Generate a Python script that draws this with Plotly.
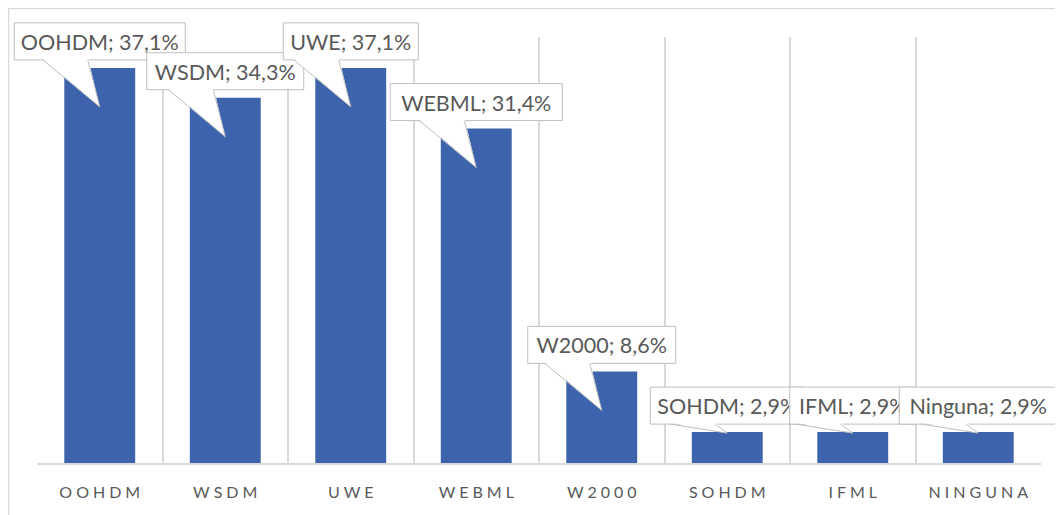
import plotly.graph_objects as go

# ---- data ----
categories = ["OOHDM", "WSDM", "UWE", "WEBML", "W2000", "SOHDM", "IFML", "Ninguna"]
values = [37.1, 34.3, 37.1, 31.4, 8.6, 2.9, 2.9, 2.9]

# ---- styling constants ----
BAR_COLOR = "#3C63AC"
GRID = "#D9D9D9"
TEXT = "#595959"
FONT = "Lato"
box_widths = [171, 157, 135, 172, 148, 154, 126, 158]  # callout widths in px
BOX_H = 37
BOX_GAP = 8

# page has an 8px body margin, so the figure starts at (8, 8)
W, H = 1055, 507
L, R, T, B = 29, 22, 29, 52
PW, PH = W - L - R, H - T - B
Y_MAX = 40.0
X_MIN, X_MAX = -0.5, len(categories) - 0.5

x_idx = list(range(len(categories)))
tick_text = ["\u2005".join(c.upper()) for c in categories]

fig = go.Figure()
fig.add_trace(go.Bar(
    x=x_idx, y=values, width=0.565,
    marker=dict(color=BAR_COLOR, line=dict(width=0)),
    hoverinfo="skip",
))


def fx(px):
    return px / PW


def fy(px):
    return px / PH


shapes = []
# outer chart border
shapes.append(dict(type="rect", xref="paper", yref="paper",
                   x0=-L / PW + 0.0005, x1=1.2,
                   y0=-0.3, y1=1 + T / PH - 0.001,
                   line=dict(color=GRID, width=1.5), fillcolor="rgba(0,0,0,0)",
                   layer="below"))

for i, (c, v) in enumerate(zip(categories, values)):
    label = f"{c}; {v:.1f}%".replace(".", ",")
    w = box_widths[i]
    cx = (i - X_MIN) / (X_MAX - X_MIN)
    cy = v / Y_MAX
    bar_px = cy * PH
    tip = -39 if bar_px > 60 else -1
    common = dict(xref="x domain", yref="y domain", layer="above")
    by = cy + fy(BOX_GAP)
    # box
    shapes.append(dict(type="rect", x0=cx - fx(w / 2), x1=cx + fx(w / 2),
                       y0=by, y1=by + fy(BOX_H),
                       fillcolor="white", line=dict(color="#BFBFBF", width=1),
                       label=dict(text=label, textposition="middle center",
                                  font=dict(family=FONT, size=21.5, color=TEXT)),
                       **common))
    # wedge fill (covers the box border at its base)
    yb2 = cy + fy(BOX_GAP + 1.6)
    yt = cy + fy(tip)
    shapes.append(dict(type="path",
                       path=(f"M {cx + fx(-57.5)},{yb2} L {cx},{yt} "
                             f"L {cx + fx(-11.5)},{yb2} Z"),
                       fillcolor="white", line=dict(width=0), **common))
    # wedge sides
    shapes.append(dict(type="path",
                       path=(f"M {cx + fx(-57)},{by} L {cx},{yt} "
                             f"L {cx + fx(-12)},{by}"),
                       fillcolor="rgba(0,0,0,0)", line=dict(color="#BFBFBF", width=1),
                       **common))

fig.update_layout(
    width=W, height=H,
    margin=dict(l=L, r=R, t=T, b=B),
    paper_bgcolor="white", plot_bgcolor="white",
    showlegend=False,
    shapes=shapes,
    xaxis=dict(
        range=[X_MIN, X_MAX],
        tickmode="array", tickvals=x_idx, ticktext=tick_text,
        showgrid=False, zeroline=False,
        showline=True, linecolor=GRID, linewidth=1.5,
        ticks="", ticklabelstandoff=14,
        tickfont=dict(family=FONT, size=16, color=TEXT),
        minor=dict(tickmode="array",
                   tickvals=[k - 0.5 for k in range(len(categories) + 1)],
                   showgrid=True, gridcolor=GRID, gridwidth=1.5, ticks=""),
        fixedrange=True,
    ),
    yaxis=dict(range=[0, Y_MAX], visible=False, fixedrange=True),
)

fig.write_html("out.html")
